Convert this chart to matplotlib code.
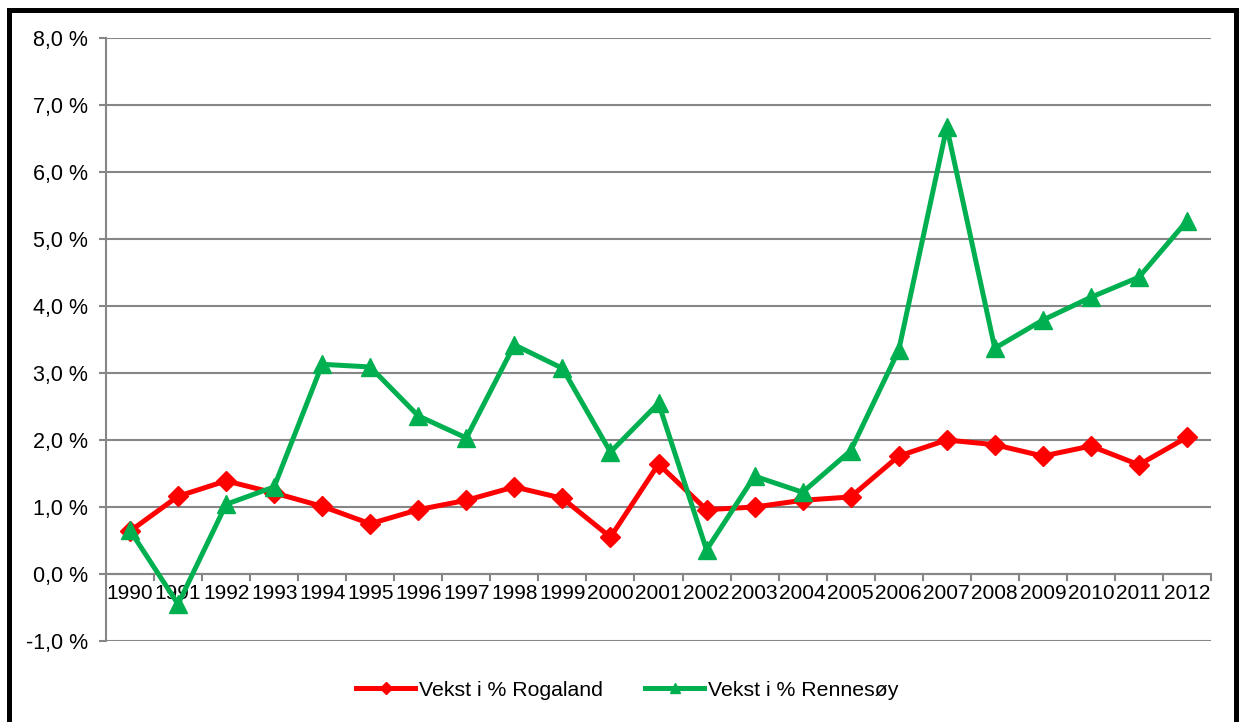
import matplotlib
matplotlib.use("Agg")
import matplotlib.pyplot as plt
from matplotlib.lines import Line2D
from matplotlib.patches import Rectangle
import numpy as np

years = [str(y) for y in range(1990, 2013)]
rogaland = [0.64, 1.16, 1.39, 1.21, 1.01, 0.75, 0.96, 1.10, 1.30, 1.13, 0.55, 1.64,
            0.96, 1.00, 1.10, 1.15, 1.76, 2.00, 1.93, 1.76, 1.91, 1.63, 2.04]
rennesoy = [0.65, -0.45, 1.04, 1.30, 3.13, 3.09, 2.36, 2.03, 3.42, 3.07, 1.82, 2.55,
            0.36, 1.46, 1.22, 1.84, 3.34, 6.67, 3.37, 3.79, 4.13, 4.43, 5.27]
yticks = [-1, 0, 1, 2, 3, 4, 5, 6, 7, 8]
labels = ["Vekst i % Rogaland", "Vekst i % Rennesøy"]

RED = "#FF0000"
GREEN = "#00B050"
GRID = "#868686"

plt.rcParams['font.family'] = ['Liberation Sans', 'DejaVu Sans']

W, H = 1239, 722
fig = plt.figure(figsize=(W / 100, H / 100), dpi=100)
ax = fig.add_axes([106 / W, 1 - 641 / H, (1211 - 106) / W, (641 - 38) / H])

x = np.arange(len(years))
ax.set_xlim(-0.5, len(years) - 0.5)
ax.set_ylim(-1, 8)

# gridlines
ax.set_yticks(yticks)
ax.set_yticklabels([f"{v:.1f} %".replace(".", ",") for v in yticks], fontsize=15.5)
ax.yaxis.grid(True, color=GRID, linewidth=1.5)
ax.set_axisbelow(True)
for s in ["top", "right", "bottom"]:
    ax.spines[s].set_visible(False)
ax.spines["left"].set_color(GRID)
ax.spines["left"].set_linewidth(1.5)
ax.tick_params(axis="y", color=GRID, width=1.5, length=5, pad=8, labelcolor="black")

# x axis at zero with ticks between categories
ax.axhline(0, color=GRID, linewidth=1.5, zorder=1)
ax.set_xticks([])
for b in np.arange(-0.5, len(years), 1.0):
    ax.plot([b, b], [0, -0.09], color=GRID, linewidth=1.5, zorder=1, clip_on=False)
for xi, lab in zip(x, years):
    ax.text(xi, -0.15, lab, ha="center", va="top", fontsize=15)

ax.plot(x, rogaland, color=RED, linewidth=3.6, marker="D", markersize=10,
        markeredgecolor=RED, markeredgewidth=1, zorder=3, solid_joinstyle="round")
ax.plot(x, rennesoy, color=GREEN, linewidth=3.6, marker="^", markersize=13.5,
        markeredgecolor=GREEN, markeredgewidth=1, zorder=4, solid_joinstyle="round")

handles = [
    Line2D([], [], color=RED, linewidth=3.6, marker="D", markersize=6),
    Line2D([], [], color=GREEN, linewidth=3.6, marker="^", markersize=7),
]
fig.legend(handles, labels, loc="center", bbox_to_anchor=(627 / W, 1 - 690 / H),
           ncol=2, frameon=False, fontsize=15.3, handlelength=2.8, handletextpad=0.15,
           columnspacing=2.0)

# outer black frame
fig.patches.append(Rectangle((9 / W, -0.05), (1236 - 9) / W, 1.05 - 10 / H,
                             transform=fig.transFigure, fill=False,
                             edgecolor="black", linewidth=3.6))

fig.savefig("out.png", dpi=100)
